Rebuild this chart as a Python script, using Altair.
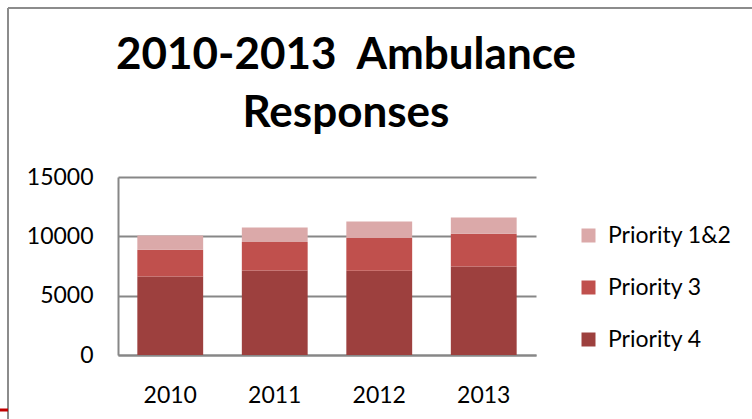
import altair as alt
import pandas as pd

years = ["2010", "2011", "2012", "2013"]
priorities = ["Priority 1&2", "Priority 3", "Priority 4"]
p4 = [6610, 7120, 7100, 7460]
p3 = [2260, 2400, 2760, 2750]
p12 = [1190, 1220, 1380, 1380]
colors = ["#DBA9A9", "#C0504D", "#9D403E"]
y_ticks = [0, 5000, 10000, 15000]
title_lines = ["2010-2013\u00a0 Ambulance", "Responses"]

rows = []
for i, yr in enumerate(years):
    rows.append({"year": yr, "priority": "Priority 4", "value": p4[i], "ord": 0})
    rows.append({"year": yr, "priority": "Priority 3", "value": p3[i], "ord": 1})
    rows.append({"year": yr, "priority": "Priority 1&2", "value": p12[i], "ord": 2})
df = pd.DataFrame(rows)

FONT = "Lato"
W, H = 418, 178
OX, OY = 118, 177

bars = alt.Chart(df).mark_bar().encode(
    x=alt.X("year:N", sort=years, title=None,
            scale=alt.Scale(paddingInner=0.37, paddingOuter=0.185),
            axis=alt.Axis(labelAngle=0, labelFontSize=23, labelFont=FONT, labelColor="#000000",
                          ticks=False, grid=False, domainColor="#878787", domainWidth=2,
                          labelPadding=29)),
    y=alt.Y("value:Q", stack="zero", title=None,
            scale=alt.Scale(domain=[0, 15000], nice=False),
            axis=alt.Axis(values=y_ticks, format="d", labelFontSize=23, labelFont=FONT,
                          labelColor="#000000",
                          ticks=False, domainColor="#878787", domainWidth=2,
                          gridColor="#878787", gridWidth=2, labelPadding=25)),
    color=alt.Color("priority:N", title=None,
                    scale=alt.Scale(domain=priorities, range=colors),
                    legend=alt.Legend(orient="none", legendX=459, legendY=47,
                                      symbolType="square", symbolSize=196, symbolStrokeWidth=0,
                                      labelFontSize=23, labelFont=FONT, labelColor="#000000",
                                      rowPadding=28, labelOffset=8)),
    order=alt.Order("ord:Q", sort="ascending"),
)

one = pd.DataFrame({"a": [0]})
frame_gray = "#8C8C8C"
top_line = alt.Chart(one).mark_rule(color=frame_gray, strokeWidth=2).encode(
    x=alt.value(8 - OX), x2=alt.value(752 - OX), y=alt.value(8 - OY))
left_line = alt.Chart(one).mark_rule(color=frame_gray, strokeWidth=2).encode(
    x=alt.value(8 - OX), y=alt.value(8 - OY), y2=alt.value(419 - OY))
red_line = alt.Chart(one).mark_rule(color="#C00000", strokeWidth=3).encode(
    x=alt.value(0 - OX), x2=alt.value(8 - OX), y=alt.value(410 - OY))

t1 = alt.Chart(one).mark_text(font=FONT, fontSize=44, fontWeight="bold", align="center",
                              baseline="alphabetic", color="#000000").encode(
    x=alt.value(346 - OX), y=alt.value(69 - OY), text=alt.value(title_lines[0]))
t2 = alt.Chart(one).mark_text(font=FONT, fontSize=44, fontWeight="bold", align="center",
                              baseline="alphabetic", color="#000000").encode(
    x=alt.value(346 - OX), y=alt.value(127 - OY), text=alt.value(title_lines[1]))

chart = alt.layer(bars, top_line, left_line, red_line, t1, t2).properties(
    width=W, height=H,
    autosize=alt.AutoSizeParams(type="none"),
    padding={"left": OX, "top": OY, "right": 752 - OX - W, "bottom": 419 - OY - H},
    view=alt.ViewBackground(stroke="transparent", strokeWidth=0),
).configure(background="#FFFFFF").configure_view(strokeWidth=0, stroke="transparent")

chart.save("out.html", embed_options={"renderer": "svg", "actions": False})
